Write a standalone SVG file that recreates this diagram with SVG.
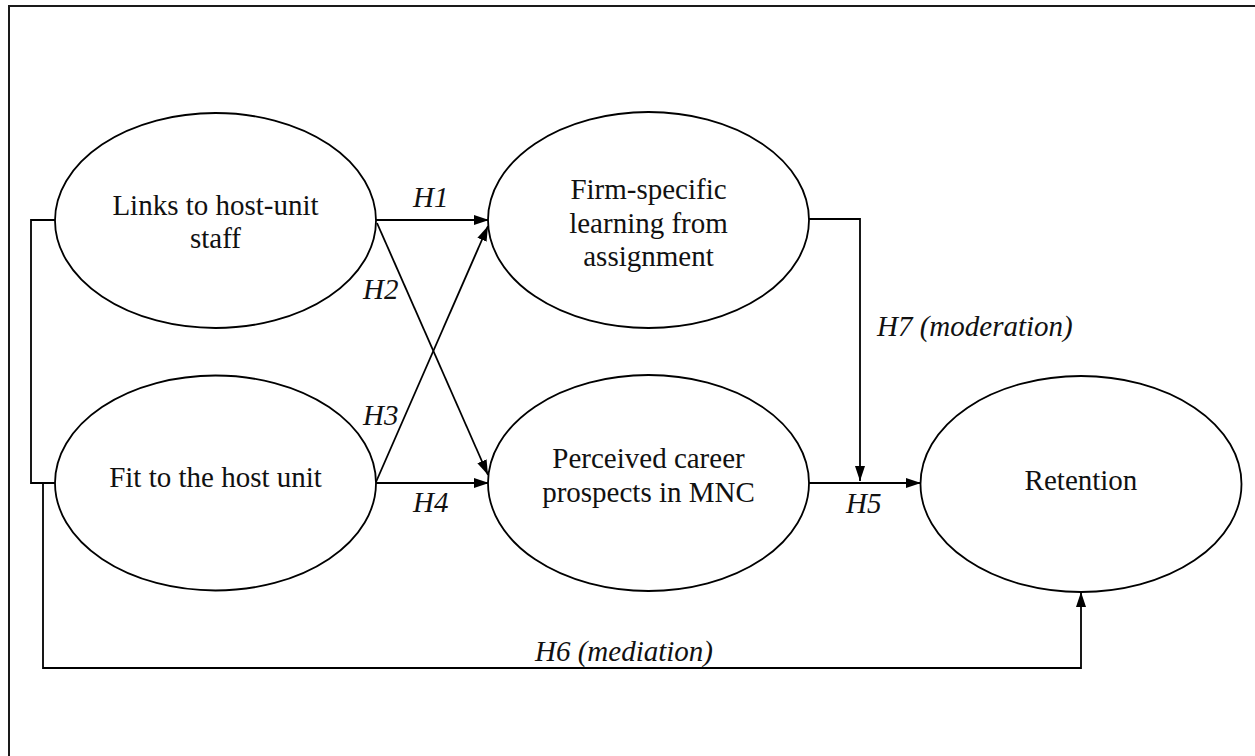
<svg xmlns="http://www.w3.org/2000/svg" width="1255" height="756" viewBox="0 0 1255 756">
  <style>
    .node ellipse { fill: #ffffff; stroke: #000000; stroke-width: 1.8; }
    .node text { font-family: "Liberation Serif", "Times New Roman", serif; font-size: 29px; fill: #111111; text-anchor: middle; }
    .conn { fill: none; stroke: #000000; stroke-width: 1.8; }
    .arrow { marker-end: url(#ah); }
    .lbl { font-family: "Liberation Serif", "Times New Roman", serif; font-size: 29px; font-style: italic; fill: #111111; }
    .frame { fill: none; stroke: #1a1a1a; stroke-width: 2; }
  </style>
  <defs>
    <marker id="ah" markerUnits="userSpaceOnUse" markerWidth="15" markerHeight="10" refX="15" refY="5" orient="auto">
      <path d="M0,0 L15,5 L0,10 z" fill="#000000"/>
    </marker>
  </defs>
  <rect width="1255" height="756" fill="#ffffff"/>
  <path class="frame" d="M9,760 V6 H1260"/>

  <g id="connectors">
    <path class="conn arrow" d="M376,220 H489"/>
    <path class="conn arrow" d="M377,223 L488,475"/>
    <path class="conn arrow" d="M376,482 L488,226"/>
    <path class="conn arrow" d="M376,483 H489"/>
    <path class="conn arrow" d="M809,483 H921"/>
    <path class="conn arrow" d="M809,219 H860 V481"/>
    <path class="conn" d="M55,220 H31 V483 H55"/>
    <path class="conn arrow" d="M43,483 V668 H1081 V592"/>
  </g>

  <g id="labels">
    <text class="lbl" x="413" y="207">H1</text>
    <text class="lbl" x="363" y="299">H2</text>
    <text class="lbl" x="363" y="425">H3</text>
    <text class="lbl" x="413" y="512">H4</text>
    <text class="lbl" x="846" y="513">H5</text>
    <text class="lbl" x="535" y="661">H6 (mediation)</text>
    <text class="lbl" x="877" y="336">H7 (moderation)</text>
  </g>

  <g id="node-links" class="node">
    <ellipse cx="215.5" cy="220.5" rx="160.5" ry="107.5"/>
    <text x="215.5" y="215">Links to host-unit</text>
    <text x="215.5" y="248">staff</text>
  </g>
  <g id="node-fit" class="node">
    <ellipse cx="215.5" cy="483" rx="160.5" ry="107.5"/>
    <text x="215.5" y="487">Fit to the host unit</text>
  </g>
  <g id="node-learning" class="node">
    <ellipse cx="648.5" cy="220" rx="160.5" ry="108"/>
    <text x="648.5" y="199">Firm-specific</text>
    <text x="648.5" y="233">learning from</text>
    <text x="648.5" y="266">assignment</text>
  </g>
  <g id="node-career" class="node">
    <ellipse cx="648.5" cy="483" rx="160.5" ry="108"/>
    <text x="648.5" y="468">Perceived career</text>
    <text x="648.5" y="502">prospects in MNC</text>
  </g>
  <g id="node-retention" class="node">
    <ellipse cx="1081" cy="484" rx="160.5" ry="108"/>
    <text x="1081" y="490">Retention</text>
  </g>
</svg>
